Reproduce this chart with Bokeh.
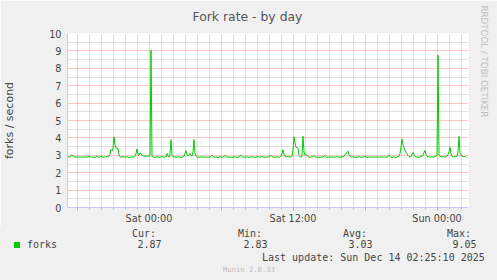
from bokeh.plotting import figure
from bokeh.layouts import column
from bokeh.models import FixedTicker, Range1d, Title, Div
from bokeh.embed import file_html
from bokeh.resources import INLINE

# ---- data: forks / second, 5-minute samples from Fri 17:10 to Sun 02:25 ----
values = [
    2.90, 2.92, 2.89, 2.91, 2.96, 3.03, 2.97, 2.92, 2.90, 2.91, 2.89, 2.90, 2.92, 2.88, 2.90, 2.91, 2.89, 2.90, 2.93, 2.90,
    2.91, 2.89, 2.97, 2.92, 2.88, 2.90, 2.91, 2.89, 2.87, 2.92, 2.96, 2.90, 2.88, 2.91, 2.97, 2.90, 2.89, 2.91, 2.88, 2.95,
    2.90, 2.92, 2.96, 3.05, 3.33, 3.25, 3.40, 4.06, 3.60, 3.42, 3.40, 3.38, 3.05, 2.92, 2.88, 2.91, 2.93, 2.89, 2.91, 2.88,
    2.93, 2.90, 2.87, 2.91, 2.89, 2.92, 2.88, 2.90, 2.95, 3.10, 3.37, 3.05, 3.00, 3.13, 3.10, 3.00, 2.96, 2.98, 2.93, 2.95,
    2.97, 2.94, 2.96, 3.00, 9.05, 2.95, 2.90, 2.88, 2.91, 2.89, 2.92, 2.90, 2.87, 2.91, 2.89, 2.93, 2.90, 2.88, 2.92, 2.91,
    3.10, 2.96, 2.90, 3.05, 3.90, 3.00, 2.91, 2.89, 2.92, 2.88, 2.90, 2.93, 2.89, 2.91, 2.87, 2.90, 2.92, 2.95, 3.10, 3.27,
    3.05, 2.96, 3.00, 3.10, 2.98, 2.95, 3.20, 3.90, 3.10, 2.95, 2.90, 2.88, 2.91, 2.89, 2.90, 2.92, 2.88, 2.90, 2.91, 2.89,
    2.90, 2.88, 2.91, 2.89, 2.94, 3.00, 2.93, 2.90, 2.88, 2.91, 2.89, 2.87, 2.90, 2.92, 2.89, 2.91, 2.88, 2.95, 3.00, 2.92,
    2.90, 2.88, 2.91, 2.89, 2.90, 2.87, 2.90, 2.92, 2.89, 2.91, 2.88, 2.90, 2.91, 2.96, 3.00, 2.93, 2.90, 2.88, 2.91, 2.89,
    2.92, 2.89, 2.90, 2.88, 2.91, 2.93, 2.89, 2.90, 2.87, 2.90, 2.92, 2.89, 2.91, 2.88, 2.90, 2.94, 2.91, 2.89, 2.90, 2.88,
    2.91, 2.89, 2.92, 2.95, 3.00, 2.93, 2.90, 2.88, 2.91, 2.89, 2.92, 2.90, 2.88, 2.91, 2.96, 3.10, 3.33, 3.05, 2.95, 2.92,
    2.90, 2.93, 2.91, 2.89, 2.92, 2.95, 3.30, 4.06, 3.70, 3.45, 3.45, 3.40, 3.00, 2.92, 2.90, 2.95, 4.10, 3.20, 3.00, 3.05,
    2.98, 2.93, 2.90, 2.88, 2.91, 2.89, 2.93, 2.97, 2.92, 2.90, 2.88, 2.91, 2.89, 2.87, 2.90, 2.92, 2.89, 2.96, 2.99, 2.92,
    2.90, 2.88, 2.91, 2.89, 2.90, 2.92, 2.88, 2.91, 2.89, 2.90, 2.93, 2.90, 2.88, 2.91, 2.89, 2.92, 2.90, 2.95, 3.05, 3.10,
    3.15, 3.24, 3.05, 2.95, 2.91, 2.89, 2.92, 2.90, 2.88, 2.91, 2.89, 2.90, 2.93, 2.90, 2.88, 2.91, 2.89, 2.92, 2.96, 2.90,
    2.90, 2.88, 2.91, 2.89, 2.90, 2.92, 2.88, 2.91, 2.89, 2.90, 2.92, 2.89, 2.91, 2.88, 2.90, 2.93, 2.90, 2.88, 2.91, 2.89,
    2.90, 2.92, 3.00, 2.93, 2.90, 2.88, 2.91, 2.89, 2.90, 2.87, 2.90, 2.92, 2.95, 3.10, 3.50, 3.94, 3.60, 3.45, 3.30, 3.15,
    3.10, 3.00, 2.93, 2.90, 2.92, 3.05, 3.16, 3.05, 2.95, 2.91, 2.89, 2.90, 2.88, 2.91, 2.92, 2.95, 3.00, 3.15, 3.28, 3.05,
    2.95, 2.92, 2.91, 2.89, 2.90, 2.92, 2.88, 2.91, 2.93, 2.95, 3.00, 8.76, 3.00, 2.95, 2.92, 2.90, 2.93, 2.91, 2.89, 2.92,
    2.95, 3.05, 3.20, 3.46, 3.10, 2.95, 2.92, 2.90, 2.93, 2.91, 2.95, 3.20, 4.09, 3.15, 3.00, 2.95, 2.93, 2.92, 2.95, 2.87,
]
start_hour = -82 / 12.0      # hours relative to Sat 00:00 (Fri 17:10)
step_hours = 5 / 60.0
hours = [start_hour + i * step_hours for i in range(len(values))]

x_major = [-6, 0, 6, 12, 18, 24]
x_minor = [h for h in range(-6, 27) if h % 6 != 0]
x_tick_labels = {-6: "", 0: "Sat 00:00", 6: "", 12: "Sat 12:00", 18: "", 24: "Sun 00:00"}
y_major = list(range(0, 11))
y_minor = [i + 0.5 for i in range(10)]

title_text = "Fork rate - by day"
y_label_text = "forks / second"
series_name = "forks"
stat_names = ["Cur:", "Min:", "Avg:", "Max:"]
stat_values = ["2.87", "2.83", "3.03", "9.05"]
last_update = "Last update: Sun Dec 14 02:25:10 2025"
watermark = "RRDTOOL / TOBI OETIKER"
footer = "Munin 2.0.33"

GREEN = "#00cc00"
TXT = "#444444"
AXIS = "#c8c8f8"
MAJ = "#ff9090"
MIN = "#c0c0c0"
BG = "#f0f0f0"

W, H = 497, 280
FL, FT, FW, FH = 67, 33, 401, 175     # frame placement in the window
SPLIT = 226                           # chart / legend strip boundary
X0 = -(148.5 - FL) / 12.0
x_end = X0 + FW / 12.0

p = figure(width=W, height=SPLIT, output_backend="svg", toolbar_location=None,
           min_border_left=FL, min_border_right=W - FL - FW, min_border_top=FT,
           min_border_bottom=SPLIT - FT - FH,
           x_range=Range1d(X0, x_end), y_range=Range1d(0, 10))
p.background_fill_color = "white"
p.border_fill_color = BG
p.outline_line_color = None

p.title.text = title_text
p.title.align = "left"
p.title.vertical_align = "top"
p.title.offset = 192 - FL
p.title.standoff = 16
p.title.text_font = "DejaVu Sans"
p.title.text_font_size = "12.4px"
p.title.text_font_style = "normal"
p.title.text_color = "#555555"

p.add_layout(Title(text=watermark, align="left", vertical_align="top", offset=-28, standoff=16,
                   text_font="DejaVu Sans", text_font_size="8.7px",
                   text_font_style="normal", text_color="#c0c0c0"), "right")

# grids
p.xgrid.ticker = FixedTicker(ticks=x_major, minor_ticks=x_minor)
p.ygrid.ticker = FixedTicker(ticks=y_major, minor_ticks=y_minor)
for g in (p.xgrid, p.ygrid):
    g.grid_line_color = MAJ
    g.grid_line_dash = "1 1"
    g.minor_grid_line_color = MIN
    g.minor_grid_line_dash = "1 1"

# axes
p.xaxis.ticker = FixedTicker(ticks=x_major, minor_ticks=x_minor)
p.xaxis.major_label_overrides = x_tick_labels
p.yaxis.ticker = FixedTicker(ticks=y_major)
for ax in (p.xaxis, p.yaxis):
    ax.axis_line_color = AXIS
    ax.major_label_text_font = "DejaVu Sans"
    ax.major_label_text_font_size = "9.7px"
    ax.major_label_text_color = TXT
p.xaxis.major_tick_in = 0
p.xaxis.major_tick_out = 3
p.xaxis.major_tick_line_color = MAJ
p.xaxis.minor_tick_in = 0
p.xaxis.minor_tick_out = 2
p.xaxis.minor_tick_line_color = MIN
p.xaxis.major_label_standoff = 2
p.yaxis.major_tick_in = 0
p.yaxis.major_tick_out = 0
p.yaxis.minor_tick_out = 0
p.yaxis.minor_tick_in = 0
p.yaxis.major_label_standoff = 6
p.yaxis.axis_label = y_label_text
p.yaxis.axis_label_text_font = "DejaVu Sans"
p.yaxis.axis_label_text_font_size = "11px"
p.yaxis.axis_label_text_font_style = "normal"
p.yaxis.axis_label_text_color = TXT
p.yaxis.axis_label_standoff = 30

p.line(hours, values, line_color=GREEN, line_width=1)

# ---- legend strip below the chart (positions relative to the strip) ----
def span(text, left, center_y, size="10px", color=TXT):
    return ('<span style="position:absolute;left:%spx;top:%spx;line-height:12px;'
            'font-size:%s;color:%s;white-space:pre;">%s</span>' % (left, center_y - SPLIT - 6, size, color, text))

stat_x = [132, 238, 343, 447]
parts = ['<span style="position:absolute;left:14px;top:%dpx;width:6px;height:6px;background:%s;"></span>'
         % (242 - SPLIT, GREEN)]
parts.append(span(series_name, 27, 245))
for name, val, sx in zip(stat_names, stat_values, stat_x):
    parts.append(span(name, sx, 233.5))
    parts.append(span(val, sx + 5.5, 245))
parts.append(span(last_update, 262, 257.5))
parts.append(span(footer, 223, 270, size="7.2px", color="#bbbbbb"))
html = ('<div style="position:relative;width:%dpx;height:%dpx;background:%s;'
        'font-family:\'DejaVu Sans Mono\',monospace;margin:0;padding:0;">%s</div>'
        % (W, H - SPLIT, BG, "".join(parts)))
legend_strip = Div(text=html, width=W, height=H - SPLIT, margin=(0, 0, 0, 0))

layout = column(p, legend_strip, spacing=0)
open("out.html", "w").write(file_html(layout, INLINE))
